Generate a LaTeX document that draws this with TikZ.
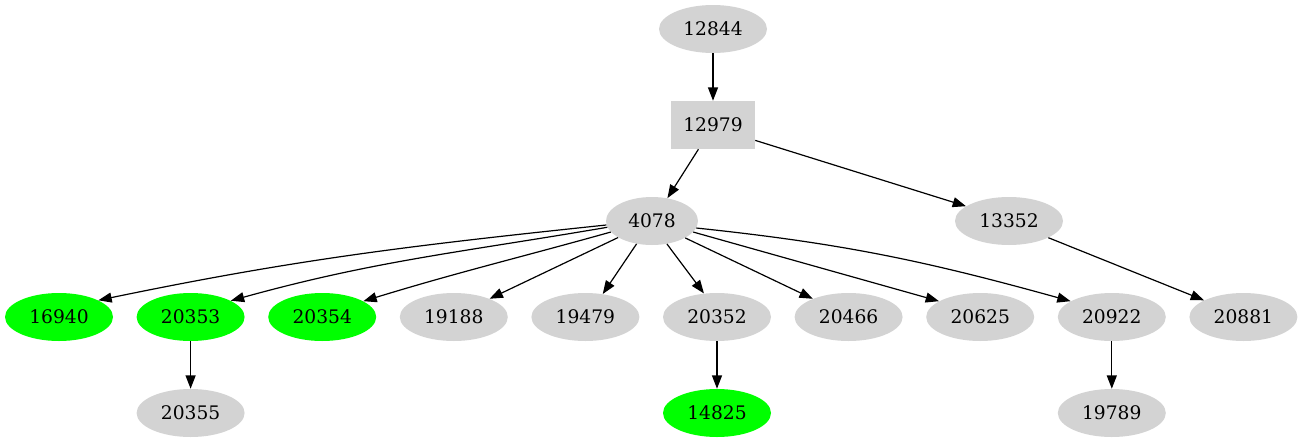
\documentclass[tikz,border=0pt]{standalone}
\usepackage{fontspec}
\setmainfont{DejaVu Serif}
\usetikzlibrary{arrows.meta,shapes.geometric}
\definecolor{gvgray}{HTML}{D3D3D3}
\definecolor{gvgreen}{HTML}{00FF00}
\tikzset{
  base/.style={inner sep=0pt, font=\fontsize{14pt}{16pt}\selectfont, text=black},
  ell/.style={base, ellipse, fill=gvgray, minimum width=81pt, minimum height=36pt},
  ellg/.style={ell, fill=gvgreen},
  ellsmall/.style={ell, minimum width=69pt},
  boxn/.style={base, rectangle, fill=gvgray, minimum width=63pt, minimum height=36pt},
  edge/.style={draw=black, line width=0.9pt, -{Triangle[length=10pt,width=7.5pt]}}
}
\begin{document}
\begin{tikzpicture}[x=0.75pt,y=-0.75pt]
\useasboundingbox (0,0) rectangle (1306,443);
% rank 0-2
\node[ell] (n12844) at (713,29) {12844};
\node[boxn] (n12979) at (713,125) {12979};
\node[ellsmall] (n4078) at (652,221) {4078};
\node[ell] (n13352) at (1009,221) {13352};
% rank 3
\node[ellg] (n16940) at (59,317) {16940};
\node[ellg] (n20353) at (190.6,317) {20353};
\node[ellg] (n20354) at (322.2,317) {20354};
\node[ell] (n19188) at (453.8,317) {19188};
\node[ell] (n19479) at (585.4,317) {19479};
\node[ell] (n20352) at (717,317) {20352};
\node[ell] (n20466) at (848.6,317) {20466};
\node[ell] (n20625) at (980.2,317) {20625};
\node[ell] (n20922) at (1111.8,317) {20922};
\node[ell] (n20881) at (1243.4,317) {20881};
% rank 4
\node[ell] (n20355) at (190.6,413) {20355};
\node[ellg] (n14825) at (717,413) {14825};
\node[ell] (n19789) at (1111.8,413) {19789};
% edges
\draw[edge] (n12844.south) -- (n12979.north);
\draw[edge] (n12979.239) -- (n4078.56.9);
\draw[edge] (n12979.340.3) -- (n13352.161);
\draw[edge] (n13352.337.7) -- (n20881.157.6);
\draw[edge] (n4078.185) to[out=186,in=11.7] (n16940.23.6);
\draw[edge] (n4078.188.8) to[out=189.7,in=15.5] (n20353.22.1);
\draw[edge] (n4078.195.9) to[out=195.6,in=17] (n20354.21.4);
\draw[edge] (n4078.206.6) -- (n19188.27.7);
\draw[edge] (n4078.236.9) -- (n19479.53.7);
\draw[edge] (n4078.303.1) -- (n20352.119.5);
\draw[edge] (n4078.333.4) -- (n20466.153.2);
\draw[edge] (n4078.345.6) -- (n20625.159.4);
\draw[edge] (n4078.351.2) to[out=354,in=164.5] (n20922.159.2);
\draw[edge] (n20353.south) -- (n20355.north);
\draw[edge] (n20352.south) -- (n14825.north);
\draw[edge] (n20922.south) -- (n19789.north);
\end{tikzpicture}
\end{document}
